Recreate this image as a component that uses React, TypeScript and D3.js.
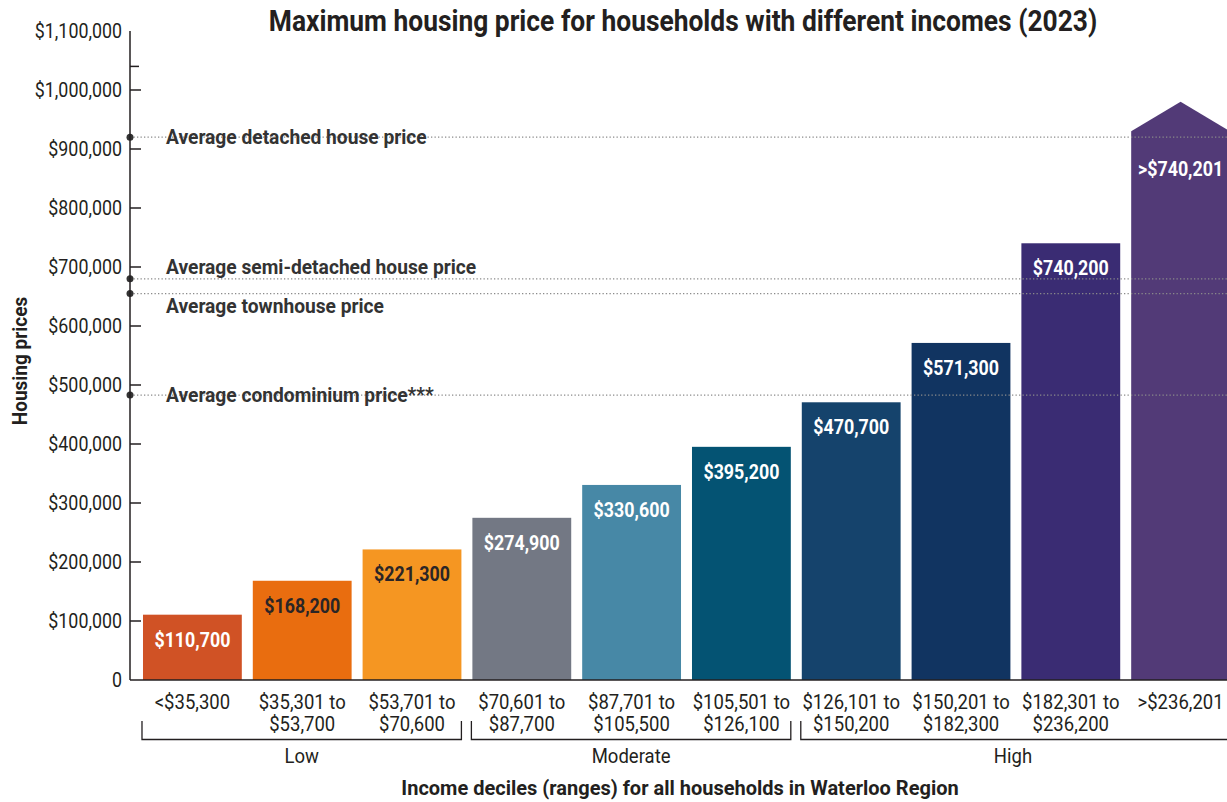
import React from 'react';
import * as d3 from 'd3';

const categories: string[][] = [
  ['<$35,300'],
  ['$35,301 to', '$53,700'],
  ['$53,701 to', '$70,600'],
  ['$70,601 to', '$87,700'],
  ['$87,701 to', '$105,500'],
  ['$105,501 to', '$126,100'],
  ['$126,101 to', '$150,200'],
  ['$150,201 to', '$182,300'],
  ['$182,301 to', '$236,200'],
  ['>$236,201'],
];
const values: number[] = [110700, 168200, 221300, 274900, 330600, 395200, 470700, 571300, 740200, 930000];
const valueLabels: string[] = ['$110,700', '$168,200', '$221,300', '$274,900', '$330,600', '$395,200', '$470,700', '$571,300', '$740,200', '>$740,201'];
const barColors: string[] = ['#d05225', '#e96d0f', '#f59622', '#737884', '#4788a6', '#045373', '#15436c', '#113461', '#3a2c73', '#523a77'];
const labelColors: string[] = ['#ffffff', '#2a2526', '#2a2526', '#ffffff', '#ffffff', '#ffffff', '#ffffff', '#ffffff', '#ffffff', '#ffffff'];
const openEndedPeak = 980000; // arrow tip for open-ended last bar
const groups = [
  { name: 'Low', from: 0, to: 2 },
  { name: 'Moderate', from: 3, to: 5 },
  { name: 'High', from: 6, to: 9 },
];
const refLines = [
  { label: 'Average detached house price', value: 920000, offset: 0 },
  { label: 'Average semi-detached house price', value: 680000, offset: -11 },
  { label: 'Average townhouse price', value: 655000, offset: 13 },
  { label: 'Average condominium price***', value: 483000, offset: 0 },
];
const yTickValues: number[] = [0, 100000, 200000, 300000, 400000, 500000, 600000, 700000, 800000, 900000, 1000000, 1100000];
const minorTickValues: number[] = [1040000];

const W = 1227;
const H = 802;
const FONT = "Roboto, 'Liberation Sans', sans-serif";
const TXT = '#231f20';

type TProps = {
  x: number;
  y: number;
  size: number;
  k?: number;
  anchor?: 'start' | 'middle' | 'end';
  bold?: boolean;
  fill?: string;
  rotate?: number;
  children: React.ReactNode;
};
// text with horizontal condensing, to mimic a condensed typeface
function T({ x, y, size, k = 0.85, anchor = 'start', bold = false, fill = TXT, rotate = 0, children }: TProps) {
  return (
    <text
      transform={`translate(${x},${y})${rotate ? ` rotate(${rotate})` : ''} scale(${k},1)`}
      textAnchor={anchor}
      dominantBaseline="central"
      fontSize={size}
      fontWeight={bold ? 'bold' : 'normal'}
      fill={fill}
    >
      {children}
    </text>
  );
}

export default function App() {
  const y = d3.scaleLinear().domain([0, 1000000]).range([680, 90]);
  const x = d3
    .scaleBand<number>()
    .domain(d3.range(values.length))
    .range([137.5, 1235.5])
    .paddingInner(0.1)
    .paddingOuter(0.05);
  const axisX = 130;
  const bw = x.bandwidth();
  const fmt = (v: number) => (v === 0 ? '0' : '$' + d3.format(',')(v));

  return (
    <svg
      width={W}
      height={H}
      style={{ position: 'absolute', left: 0, top: 0, display: 'block', background: '#fff' }}
      fontFamily={FONT}
    >
      {/* title */}
      <T x={683} y={21} size={29} k={0.91} anchor="middle" bold>
        Maximum housing price for households with different incomes (2023)
      </T>

      {/* bars */}
      {values.map((v, i) => {
        const x0 = x(i)!;
        const x1 = x0 + bw;
        if (i === values.length - 1) {
          const p = d3.path();
          p.moveTo(x0, y(0));
          p.lineTo(x0, y(v));
          p.lineTo(x0 + bw / 2, y(openEndedPeak));
          p.lineTo(x1, y(v));
          p.lineTo(x1, y(0));
          p.closePath();
          return <path key={i} d={p.toString()} fill={barColors[i]} />;
        }
        return <rect key={i} x={x0} y={y(v)} width={bw} height={y(0) - y(v)} fill={barColors[i]} />;
      })}

      {/* reference lines */}
      {refLines.map((r, i) => (
        <g key={i}>
          <line x1={axisX} x2={W} y1={y(r.value)} y2={y(r.value)} stroke="#8a8a8a" strokeWidth={1.3} strokeDasharray="1.3 2.2" />
          <circle cx={axisX} cy={y(r.value)} r={3.5} fill="#333" />
          <T x={166} y={y(r.value) + r.offset} size={20} k={0.96} bold fill="#333">
            {r.label}
          </T>
        </g>
      ))}

      {/* value labels */}
      {values.map((v, i) => (
        <T
          key={i}
          x={x(i)! + bw / 2}
          y={y(v) + (i === values.length - 1 ? 38 : 25)}
          anchor="middle"
          size={21}
          bold
          fill={labelColors[i]}
        >
          {valueLabels[i]}
        </T>
      ))}

      {/* y axis */}
      <line x1={axisX} x2={axisX} y1={y(0)} y2={y(1100000)} stroke={TXT} strokeWidth={1.5} />
      {yTickValues
        .filter((t) => t > 0 && t < 1100000)
        .map((t) => (
          <line key={t} x1={axisX} x2={axisX + 11} y1={y(t)} y2={y(t)} stroke={TXT} strokeWidth={1.5} />
        ))}
      {minorTickValues.map((t) => (
        <line key={t} x1={axisX} x2={axisX + 9} y1={y(t)} y2={y(t)} stroke={TXT} strokeWidth={1.5} />
      ))}
      {yTickValues.map((t) => (
        <T key={t} x={122} y={y(t)} anchor="end" size={21}>
          {fmt(t)}
        </T>
      ))}
      <T x={20} y={361} anchor="middle" size={20} k={0.95} bold rotate={-90}>
        Housing prices
      </T>

      {/* x axis baseline */}
      <line x1={axisX} x2={W} y1={y(0)} y2={y(0)} stroke={TXT} strokeWidth={1.5} />

      {/* category labels */}
      {categories.map((lines, i) =>
        lines.map((l, j) => (
          <T key={`${i}-${j}`} x={x(i)! + bw / 2} y={702 + j * 22} anchor="middle" size={19.5} k={0.95}>
            {l}
          </T>
        ))
      )}

      {/* group brackets */}
      {groups.map((g, i) => {
        const gx0 = x(g.from)! - 1;
        const gx1 = x(g.to)! + bw;
        const last = i === groups.length - 1;
        const right = last ? W + 5 : gx1;
        const d = last
          ? `M${gx0},721 L${gx0},739.5 L${right},739.5`
          : `M${gx0},721 L${gx0},739.5 L${right},739.5 L${right},721`;
        const cx = last ? 1013 : (gx0 + gx1) / 2;
        return (
          <g key={g.name}>
            <path d={d} fill="none" stroke={TXT} strokeWidth={1.3} />
            <T x={cx} y={756} anchor="middle" size={19.5} k={0.95}>
              {g.name}
            </T>
          </g>
        );
      })}

      <T x={680} y={788} anchor="middle" size={20} k={1.0} bold>
        Income deciles (ranges) for all households in Waterloo Region
      </T>
    </svg>
  );
}
